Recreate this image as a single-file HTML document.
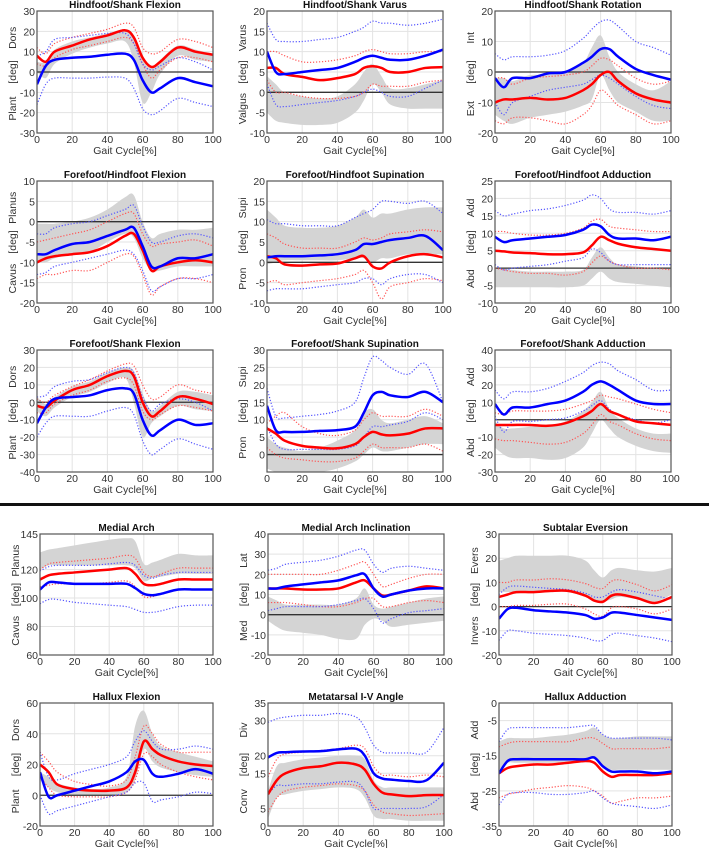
<!DOCTYPE html>
<html><head><meta charset="utf-8">
<style>
html,body{margin:0;padding:0;background:#fff;}
svg{display:block;font-family:"Liberation Sans",Arial,sans-serif;}
</style></head>
<body>
<svg id="fig" width="709" height="848" viewBox="0 0 709 848" xmlns="http://www.w3.org/2000/svg">
<rect x="0" y="0" width="709" height="848" fill="#fff"/>
<rect x="0" y="503" width="709" height="3" fill="#111"/>
</svg>
<script>
const xs = [0,5,10,20,30,40,50,55,60,65,70,80,90,100];

const p1Red=[8,5,10,13,16,18,20.5,17,7,2.5,5,12,10,8.5];
const p1RedHi=[12,9,14,17,19,21,24,22,12,9,10,16,15,12];
const p1RedLo=[4,3,7,11,13,15,17,14,4,-3,1,7,7,5];
const p1Blue=[-6,3,6,7,7.5,8.5,9,6,-4,-10,-8,-3,-5,-7];
const p1BlueHi=[8,10,16,17,18,19,19,14,4,1,3,7,5,1];
const p1BlueLo=[-16,-6,-3,-3,-3,-2.5,-3,-8,-18,-21,-19,-13,-15,-17];
const p1GrayHi=[5,5,11,15,17,19,21,18,6,2,6,13,11,9];
const p1GrayLo=[0,-3,4,9,12,14,15,5,-15,-10,-1,8,6,5];

const p2Red=[6,6,4.5,3.8,3,3.5,4.5,6,6.4,6,5,5,6,6.2];
const p2RedHi=[10,10,9,7.5,7.5,8,9,10,10.5,10,9.5,9.5,10,10];
const p2RedLo=[3,0,0,-1,-1.5,-1.5,-1,0,2,1.5,1.5,1.5,2.5,3];
const p2Blue=[10,5,4.5,5,5.5,6,7.5,8.5,9,8.5,8,8,9,10.5];
const p2BlueHi=[17,13,12.5,12.5,13,13.5,15,16,17.5,17,17,16.5,17,18];
const p2BlueLo=[2,-3,-3.5,-3,-2.5,-2,-1,0,0.8,0,-1,-1,1,3];
const p2GrayHi=[4,2,0,-1,-1.5,-1,2,5,7,4,1,1,2,3];
const p2GrayLo=[-5,-7,-7.5,-8,-8,-7.5,-5,-2,2,0,-3,-4,-4,-4];

const p3Red=[-10,-9,-9,-8.5,-9,-8.5,-6,-4,-1,0,-3,-7,-9,-10];
const p3RedHi=[-2,-2,-4,-2,-1.5,-1,0,2,4.5,4,2,-2,-4,-3];
const p3RedLo=[-16,-17,-15,-15,-16,-17,-14,-11,-6,-8,-11,-14,-17,-16];
const p3Blue=[-2,-5,-2,-2,-0.5,0,3,5,7.5,7.5,5,1,-1,-2.5];
const p3BlueHi=[6,4,5,5,5.5,7,11,14,16.5,17,15,10,8,5.5];
const p3BlueLo=[-10,-14,-10,-8,-6,-5,-4,-2.5,-1,-2,-4,-8,-11,-12];
const p3GrayHi=[-2,-2,-3,-1,-1,0,3,8,12,5,0,-4,-6,-3];
const p3GrayLo=[-14,-16,-17,-15,-14,-13,-11,-9,-1,-6,-10,-13,-16,-16];

const p4Red=[-10,-9,-8.5,-8,-7.5,-6,-3.5,-3,-7,-12,-11,-10,-9.5,-10];
const p4RedHi=[-5,-4.5,-4,-3,-2,0,2,2,-3,-6,-5.5,-5,-4.5,-6];
const p4RedLo=[-14,-13,-13,-12,-12,-10,-8,-8.5,-13,-18,-16,-14,-14,-15];
const p4Blue=[-8,-8,-7,-5.5,-5,-3.5,-2,-1.5,-6,-11,-11,-9,-9,-8];
const p4BlueHi=[-3,-3,-1.5,-0.5,0,1.5,3,4,-1,-5,-5,-3.5,-3,-4];
const p4BlueLo=[-13,-12.5,-11,-10,-9,-8,-7,-8,-12,-17,-16,-14,-14,-13];
const p4GrayHi=[-0.5,-0.5,-0.5,0,1,3,6,6.5,0,-4,-3,-2,-2,-1.5];
const p4GrayLo=[-10,-10,-9,-8,-7.5,-5,-3,-4,-9,-12,-12,-11,-11,-11];

const p5Red=[1.5,1,-0.5,-0.8,-0.5,-0.3,1,1.5,-1,-1.5,0,1.5,2,1.2];
const p5RedHi=[7,6,4.5,3.5,3.5,3.5,5,6,5.5,6,7,7.5,8,7.5];
const p5RedLo=[-5,-4.5,-5.5,-5,-4.5,-4,-3,-2,-5,-9,-6,-5,-4,-4.5];
const p5Blue=[1.2,1.5,1.5,1.5,1.7,2,3,4.5,4.5,5,5.5,6,6.5,3];
const p5BlueHi=[10.5,9.5,9.5,9,9,9,11,12,13,15,15,14.5,15,12];
const p5BlueLo=[-7,-6.5,-6.5,-6.5,-6,-5.5,-5,-4,-4,-5.5,-4,-3,-3,-5];
const p5GrayHi=[13,11,9,8.5,8.5,9,11,13,11,12,12,13,13.5,13.5];
const p5GrayLo=[-0.5,0,0.5,0.5,0.5,0.5,1,1,0,1,1,2,2,2];

const p6Red=[5,4.8,4.5,4.3,4,4,4.5,6.5,9,8,7,6,5.5,5];
const p6RedHi=[10.5,10.5,10,9.5,9.5,10,11.5,13.5,14,12,11.5,11,10.5,10.5];
const p6RedLo=[0,-0.5,-1,-1.5,-1.5,-2,-1,1.5,3.5,2,1,0,0,-0.5];
const p6Blue=[9,7.5,8,8.5,9,9.5,11,12.5,12,9.5,8.5,8.5,8,9];
const p6BlueHi=[16.5,15,15.5,16.5,17,18,19.5,21,20,17,16,16,15.5,16.5];
const p6BlueLo=[1,-0.5,0,0.5,1,2,3,5.5,4.5,2,1,1,1,1];
const p6GrayHi=[0,0,-0.5,-1,-1,-1,-0.5,3,6,3,1,0.5,0,0];
const p6GrayLo=[-5.5,-5.5,-5.5,-5.5,-5.5,-5.5,-5,-3,-1,-3,-4,-4.5,-5,-5.5];

const p7Red=[-2,-3,1,7,10,15,18,15,0,-8,-5,3,2,-1];
const p7RedHi=[2,0,4,9,13,18,22,21,10,2,3,10,7,5];
const p7RedLo=[-6,-6,-1,4,7,12,14,10,-5,-10,-7,-2,-3,-5];
const p7Blue=[-12,-3,2,3,4,7,8,5,-10,-19,-16,-10,-13,-12];
const p7BlueHi=[3,4,9,12,13,17,20,17,3,-5,-1,2,0,-5];
const p7BlueLo=[-20,-12,-8,-8,-8,-5,-3,-7,-22,-30,-27,-21,-24,-27];
const p7GrayHi=[3,-1,3,9,12,17,20,18,5,-5,-2,6,6,4];
const p7GrayLo=[-5,-8,-3,3,6,11,14,0,-20,-12,-8,-2,-4,-5];

const p8Red=[7.5,6,4,2.5,2,1.8,3,5,6.5,5.8,5.5,6,7.5,7.5];
const p8RedHi=[9,11,12,8,6,5.5,7,10,12,11,11,11,13,11];
const p8RedLo=[2,0,-1,-1.5,-2,-2,-1,1,3,2,2,2,3,1];
const p8Blue=[14,7,6.5,6.5,6.8,7,8,12,17,18,17,16.5,18,15];
const p8BlueHi=[19,11,10.5,11,11.5,12.5,15,22,28,27,25,23,26,15];
const p8BlueLo=[8,3,1.5,1.5,1.5,1.5,2.5,5,8,8,8.5,9.5,12,10];
const p8GrayHi=[5,3,2,1,2,4,7,12,13,10,9,10,11,9];
const p8GrayLo=[-4,-5,-5,-5,-5,-4,-2,0,2,1,1,2,3,3];

const p9Red=[-3,-3,-3,-3,-3.5,-2,2,5,9,5,3,-1,-2,-3];
const p9RedHi=[4,3,5,5,5,6,9,11,14,13,12,9,6,4];
const p9RedLo=[-11,-12,-12,-13,-14,-13,-8,-3,3,-1,-3,-8,-11,-12];
const p9Blue=[9,3,7,7,9,11,16,20,22,20,17,11,9,9];
const p9BlueHi=[17,12,16,16,18,22,27,31,33,32,28,23,17,17];
const p9BlueLo=[2,-7,-1,-1,0,1,5,8,11,6,3,0,-2,0];
const p9GrayHi=[-1,-5,-5,-4,-3,-1,5,10,16,6,1,-5,-8,-8];
const p9GrayLo=[-16,-20,-22,-22,-23,-22,-16,-8,0,-5,-10,-15,-18,-19];

const p10Red=[113,116,117,118,119,120,121,117,110,109,110,113,113,113];
const p10RedHi=[120,124,125,126,127,128,130,128,118,115,117,121,121,121];
const p10RedLo=[108,109,110,110,110,111,112,108,101,101,103,106,106,106];
const p10Blue=[106,111,111,110,110,110,110,107,103,102,103,106,106,106];
const p10BlueHi=[119,122,123,123,123,124,125,123,116,114,116,118,118,118];
const p10BlueLo=[96,99,99,97,96,95,94,92,90,90,91,94,95,95];
const p10GrayHi=[132,134,135,137,139,141,142,140,124,125,127,131,130,130];
const p10GrayLo=[120,123,123,123,123,123,123,121,112,114,115,117,117,117];

const p11Red=[13,13,13,12.5,12.5,13,16,17,13,9.5,10,12,14,13];
const p11RedHi=[20,20,20,20,20,22,25,26,20,14,15,18,20,20];
const p11RedLo=[6,6,6,5,4,4,6,8,8,4,4,6,7,6];
const p11Blue=[13,13,14,15,16,17,19.5,20,13,9,10,12,13,13];
const p11BlueHi=[22,23,25,26,27,29,32,32,25,21,23,24,23,22];
const p11BlueLo=[2,3,4,4,4,5,7,8,3,-4,-2,1,2,3];
const p11GrayHi=[9,7,5,5,5,5,8,13,5,3,4,6,8,9];
const p11GrayLo=[-3,-6,-8,-9,-10,-12,-12,-5,-2,-3,-6,-5,-4,-3];

const p12Red=[4,5,6,6,6.5,6.5,4.5,2.5,2,4.5,5,3.5,1.5,4];
const p12RedHi=[10,10,11,11,11.5,11,9.5,8,7.5,10.5,11,9,6.5,9];
const p12RedLo=[0,0,0.5,0.5,1,1,-1,-3,-4,-0.5,0,-1,-3,-1];
const p12Blue=[-5,-1,-0.5,-1.5,-2,-2.5,-3.5,-5,-4.5,-2.5,-2.5,-3.5,-4.5,-5.5];
const p12BlueHi=[5,8,8.5,8,7.5,7,5.5,4,4,6,7,6,4.5,3];
const p12BlueLo=[-14,-10,-10,-11,-11.5,-12,-13,-14,-14,-11.5,-11,-12,-13,-14.5];
const p12GrayHi=[19,20,21,21,21,21,19,15,12,15,16,15,14.5,16];
const p12GrayLo=[6,6,6,6,6,6,4,2,2,3,4,3,2,5];

const p13Red=[20,15,7,4,3,3,5,15,35,30,26,22,20,19];
const p13RedHi=[28,22,15,9,7,6,10,25,45,40,33,28,28,28];
const p13RedLo=[12,5,0,-1,-1,-1,2,10,27,25,20,15,12,10];
const p13Blue=[15,-1,0,3,6,9,15,22,23,14,12,14,17,14];
const p13BlueHi=[28,12,10,14,17,20,25,35,42,35,30,30,32,30];
const p13BlueLo=[0,-12,-10,-7,-4,-1,2,8,8,-4,-3,-1,2,1];
const p13GrayHi=[15,12,8,5,4,5,12,45,55,40,32,28,25,22];
const p13GrayLo=[10,5,2,0,0,0,2,10,30,22,18,15,13,12];

const p14Red=[9,13,15,16.5,17,18,17.5,16,12,9.5,9,8.5,8.8,8.8];
const p14RedHi=[14,19,20.5,21,21.5,22,23,22,17,14.5,14.5,14,14.5,14];
const p14RedLo=[4,8,10,11,11.5,12,11.5,10,6,4,3.5,3,3.2,3.5];
const p14Blue=[19.5,20.8,21,21.2,21.3,21.8,22,20,15,13.5,13.2,12.8,13,18];
const p14BlueHi=[29.5,30.5,31,31.5,31.5,32,31,28,23,21,20.8,20.8,21,28];
const p14BlueLo=[9,11.5,11.5,12,12,12.5,12.5,10,5,5,5,5,5.5,9];
const p14GrayHi=[10,17,18,19,19.5,20,20,19,13,11,11,11,11,11];
const p14GrayLo=[2,8,9,10,10.5,11,10.5,8,3,2,2,1.5,1.5,1.5];

const p15Red=[-20,-18.5,-18,-17.5,-17.5,-17,-16.5,-17,-19.5,-21,-20.5,-20.5,-20.5,-20];
const p15RedHi=[-12.5,-11.5,-11,-11,-11,-11,-10,-10,-11.5,-13,-13,-13,-13,-12.5];
const p15RedLo=[-27,-26,-25.5,-24.5,-24,-23.5,-24,-25,-26.5,-28.5,-28,-27,-27,-26.5];
const p15Blue=[-20,-16.5,-16,-16,-16,-16,-16,-15.5,-18,-19.5,-19.5,-19.5,-20,-19.5];
const p15BlueHi=[-11,-7.5,-7,-7,-7,-7,-6.5,-6.5,-9,-10,-10,-10,-10,-10.5];
const p15BlueLo=[-29,-26,-25.5,-25.5,-26,-26,-25.5,-25,-27,-28.5,-29,-29.5,-30,-29];
const p15GrayHi=[-11,-10,-10,-10,-9.5,-9,-8,-7,-9,-10,-10,-9.5,-9.5,-9.5];
const p15GrayLo=[-19,-17,-17,-17,-17,-17,-16.5,-16,-18,-19,-19,-19,-19,-19];

const xTicks=[0,20,40,60,80,100];
const titles=["Hindfoot/Shank Flexion","Hindfoot/Shank Varus","Hindfoot/Shank Rotation","Forefoot/Hindfoot Flexion","Forefoot/Hindfoot Supination","Forefoot/Hindfoot Adduction","Forefoot/Shank Flexion","Forefoot/Shank Supination","Forefoot/Shank Adduction","Medial Arch","Medial Arch Inclination","Subtalar Eversion","Hallux Flexion","Metatarsal I-V Angle","Hallux Adduction"];
const upperLabels=["Dors","Varus","Int","Planus","Supi","Add","Dors","Supi","Add","Planus","Lat","Evers","Dors","Div","Add"];
const lowerLabels=["Plant","Valgus","Ext","Cavus","Pron","Abd","Plant","Pron","Abd","Cavus","Med","Invers","Plant","Conv","Abd"];
const yRanges=[[-30,30],[-10,20],[-20,20],[-20,10],[-10,20],[-10,25],[-40,30],[-5,30],[-30,40],[60,145],[-20,40],[-20,30],[-20,60],[0,35],[-35,0]];
const yTickSets=[[-30,-20,-10,0,10,20,30],[-10,-5,0,5,10,15,20],[-20,-10,0,10,20],[-20,-15,-10,-5,0,5,10],[-10,-5,0,5,10,15,20],[-10,-5,0,5,10,15,20,25],[-40,-30,-20,-10,0,10,20,30],[0,5,10,15,20,25,30],[-30,-20,-10,10,20,30,40],[60,80,100,120,145],[-20,-10,0,10,20,30,40],[-20,-10,0,10,20,30],[-20,0,20,40,60],[0,5,15,20,30,35],[-35,-25,-15,-5,0]];

const series=[
[p1Red,p1RedHi,p1RedLo,p1Blue,p1BlueHi,p1BlueLo,p1GrayHi,p1GrayLo],
[p2Red,p2RedHi,p2RedLo,p2Blue,p2BlueHi,p2BlueLo,p2GrayHi,p2GrayLo],
[p3Red,p3RedHi,p3RedLo,p3Blue,p3BlueHi,p3BlueLo,p3GrayHi,p3GrayLo],
[p4Red,p4RedHi,p4RedLo,p4Blue,p4BlueHi,p4BlueLo,p4GrayHi,p4GrayLo],
[p5Red,p5RedHi,p5RedLo,p5Blue,p5BlueHi,p5BlueLo,p5GrayHi,p5GrayLo],
[p6Red,p6RedHi,p6RedLo,p6Blue,p6BlueHi,p6BlueLo,p6GrayHi,p6GrayLo],
[p7Red,p7RedHi,p7RedLo,p7Blue,p7BlueHi,p7BlueLo,p7GrayHi,p7GrayLo],
[p8Red,p8RedHi,p8RedLo,p8Blue,p8BlueHi,p8BlueLo,p8GrayHi,p8GrayLo],
[p9Red,p9RedHi,p9RedLo,p9Blue,p9BlueHi,p9BlueLo,p9GrayHi,p9GrayLo],
[p10Red,p10RedHi,p10RedLo,p10Blue,p10BlueHi,p10BlueLo,p10GrayHi,p10GrayLo],
[p11Red,p11RedHi,p11RedLo,p11Blue,p11BlueHi,p11BlueLo,p11GrayHi,p11GrayLo],
[p12Red,p12RedHi,p12RedLo,p12Blue,p12BlueHi,p12BlueLo,p12GrayHi,p12GrayLo],
[p13Red,p13RedHi,p13RedLo,p13Blue,p13BlueHi,p13BlueLo,p13GrayHi,p13GrayLo],
[p14Red,p14RedHi,p14RedLo,p14Blue,p14BlueHi,p14BlueLo,p14GrayHi,p14GrayLo],
[p15Red,p15RedHi,p15RedLo,p15Blue,p15BlueHi,p15BlueLo,p15GrayHi,p15GrayLo]
];

const NS="http://www.w3.org/2000/svg";
const svg=document.getElementById('fig');
const rowsY=[[11,133],[181,303],[350,472],[534,655],[703,826]];
const colsTop=[[37,213],[267,443],[495,671]];
const colsBot=[[40,213],[268,444],[499,672]];

function mk(tag,attrs,parent){const e=document.createElementNS(NS,tag);for(const k in attrs)e.setAttribute(k,attrs[k]);(parent||svg).appendChild(e);return e;}
function smoothPts(pts){
  let d="M"+pts[0][0].toFixed(2)+","+pts[0][1].toFixed(2);
  for(let i=0;i<pts.length-1;i++){
    const p0=pts[Math.max(0,i-1)],p1=pts[i],p2=pts[i+1],p3=pts[Math.min(pts.length-1,i+2)];
    const c1=[p1[0]+(p2[0]-p0[0])/6,p1[1]+(p2[1]-p0[1])/6];
    const c2=[p2[0]-(p3[0]-p1[0])/6,p2[1]-(p3[1]-p1[1])/6];
    d+=" C"+c1[0].toFixed(2)+","+c1[1].toFixed(2)+" "+c2[0].toFixed(2)+","+c2[1].toFixed(2)+" "+p2[0].toFixed(2)+","+p2[1].toFixed(2);
  }
  return d;
}

for(let i=0;i<15;i++){
  const r=Math.floor(i/3),c=i%3;
  const cx=(r<3?colsTop:colsBot)[c];
  const L=cx[0],R=cx[1],T=rowsY[r][0],B=rowsY[r][1];
  const [ymin,ymax]=yRanges[i];
  const xScale=v=>L+(R-L)*v/100;
  const yScale=v=>B-(B-T)*(v-ymin)/(ymax-ymin);
  const g=mk('g',{});
  
  
  const clipId='clip'+i;
  const cp=mk('clipPath',{id:clipId},g);
  mk('rect',{x:L,y:T,width:R-L,height:B-T},cp);
  xTicks.forEach(v=>{ if(v>0&&v<100){ const gl=mk('line',{x1:xScale(v),x2:xScale(v),y1:T,y2:B,stroke:'#e3e3e3','stroke-width':1},g);   }});
  yTickSets[i].forEach(v=>{ if(v>ymin&&v<ymax){ const gl=mk('line',{x1:L,x2:R,y1:yScale(v),y2:yScale(v),stroke:'#e3e3e3','stroke-width':1},g);   }});
  const s=series[i];
  const plot=mk('g',{'clip-path':'url(#'+clipId+')'},g);
  const hi=xs.map((x,k)=>[xScale(x),yScale(s[6][k])]);
  const lo=xs.map((x,k)=>[xScale(x),yScale(s[7][k])]).reverse();
  const bandD=smoothPts(hi)+" L"+smoothPts(lo).slice(1)+" Z";
  const band=mk('path',{d:bandD,fill:'#d4d4d4',stroke:'none'},plot);
  
  
  if(ymin<0&&ymax>0){ const z=mk('line',{x1:L,x2:R,y1:yScale(0),y2:yScale(0),stroke:'#333','stroke-width':1.3},plot);   }
  const defs=[[1,'#f55','red-upper-bound',1.2,'1.2 1.8'],[2,'#f55','red-lower-bound',1.2,'1.2 1.8'],[4,'#55f','blue-upper-bound',1.2,'1.2 1.8'],[5,'#55f','blue-lower-bound',1.2,'1.2 1.8'],[0,'#f00','red-mean-line',2.5,null],[3,'#00f','blue-mean-line',2.5,null]];
  defs.forEach(dd=>{
    const pts=xs.map((x,k)=>[xScale(x),yScale(s[dd[0]][k])]);
    const a={d:smoothPts(pts),fill:'none',stroke:dd[1],'stroke-width':dd[3],'stroke-linejoin':'round'};
    if(dd[4])a['stroke-dasharray']=dd[4];
    const p=mk('path',a,plot);
    
    
  });
  const fr=mk('rect',{x:L,y:T,width:R-L,height:B-T,fill:'none',stroke:'#555','stroke-width':1.2},g);
  
  
  xTicks.forEach(v=>{
    const t=mk('text',{x:xScale(v),y:B+10,'text-anchor':'middle','font-size':10.5,fill:'#333'},g);
    t.textContent=v;
    
    
  });
  yTickSets[i].forEach(v=>{
    const t=mk('text',{x:L-2,y:yScale(v)+4,'text-anchor':'end','font-size':10.5,fill:'#333'},g);
    t.textContent=v;
    
    
  });
  const xt=mk('text',{x:(L+R)/2,y:B+21,'text-anchor':'middle','font-size':10.5,fill:'#333'},g);
  xt.textContent='Gait Cycle[%]';
  
  
  const tt=mk('text',{x:(L+R)/2,y:T-3,'text-anchor':'middle','font-size':10,'font-weight':'bold',fill:'#111'},g);
  tt.textContent=titles[i];
  
  
  const lx=L-21, H=B-T;
  [[upperLabels[i],T+H*0.22,'y-axis-upper-label'],['[deg]',T+H*0.5,'y-axis-unit-label'],[lowerLabels[i],T+H*0.8,'y-axis-lower-label']].forEach(q=>{
    const t=mk('text',{x:lx,y:q[1],'text-anchor':'middle','font-size':10.5,fill:'#333',transform:'rotate(-90 '+lx+' '+q[1]+')'},g);
    t.textContent=q[0];
    
    
  });
}
</script>
</body></html>
